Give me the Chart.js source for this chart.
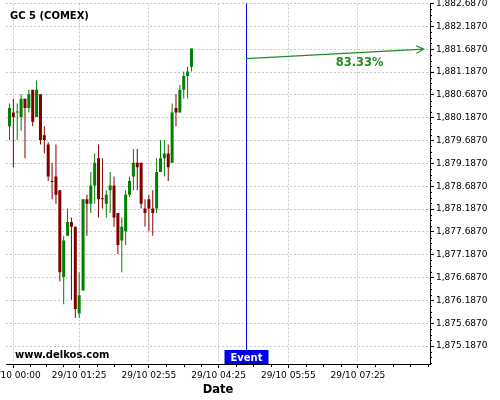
<!DOCTYPE html>
<html>
<head>
<meta charset="utf-8">
<script src="https://cdn.jsdelivr.net/npm/chart.js@4.4.0/dist/chart.umd.min.js"></script>
<style>
  html, body { margin: 0; padding: 0; background: #fff; }
  canvas { display: block; }
</style>
</head>
<body>
<canvas id="chart" width="500" height="400"></canvas>
<script>
// 5 minute candles, GC 5 (COMEX), 28/10 23:55 -> 29/10 03:50
const candleTimes = [
  "23:55", "00:00", "00:05", "00:10", "00:15", "00:20", "00:25", "00:30", "00:35", "00:40", "00:45", "00:50",
  "00:55", "01:00", "01:05", "01:10", "01:15", "01:20", "01:25", "01:30", "01:35", "01:40", "01:45", "01:50",
  "01:55", "02:00", "02:05", "02:10", "02:15", "02:20", "02:25", "02:30", "02:35", "02:40", "02:45", "02:50",
  "02:55", "03:00", "03:05", "03:10", "03:15", "03:20", "03:25", "03:30", "03:35", "03:40", "03:45", "03:50"
];
const opens = [
  1880.0, 1880.3, 1880.30, 1880.2, 1880.6, 1880.4, 1880.8, 1880.2, 1880.7, 1879.8, 1879.6, 1878.80,
  1878.9, 1878.6, 1876.7, 1877.6, 1877.9, 1877.8, 1875.9, 1876.4, 1878.4, 1878.3, 1878.7, 1879.3,
  1878.42, 1878.3, 1878.6, 1878.7, 1878.1, 1877.5, 1877.7, 1878.5, 1878.9, 1879.2, 1879.2, 1878.2,
  1878.4, 1878.2, 1878.2, 1879.0, 1879.3, 1879.4, 1879.2, 1880.4, 1880.3, 1880.8, 1881.1, 1881.3
];
const highs = [
  1880.5, 1880.6, 1880.5, 1880.7, 1880.6, 1880.8, 1880.8, 1881.0, 1880.7, 1880.0, 1879.65, 1879.2,
  1879.6, 1878.6, 1877.6, 1878.2, 1878.0, 1877.8, 1876.8, 1878.4, 1878.5, 1879.0, 1879.4, 1879.6,
  1879.3, 1878.6, 1879.0, 1878.9, 1878.1, 1878.0, 1878.6, 1878.9, 1879.5, 1879.5, 1879.2, 1878.4,
  1878.5, 1878.6, 1879.3, 1879.7, 1879.7, 1879.6, 1880.5, 1880.7, 1880.9, 1881.2, 1881.3, 1881.7
];
const lows = [
  1879.7, 1879.1, 1879.7, 1879.9, 1879.3, 1880.3, 1880.0, 1880.2, 1879.6, 1879.4, 1878.8, 1878.4,
  1878.3, 1876.6, 1876.1, 1877.6, 1876.2, 1875.8, 1875.8, 1876.4, 1877.6, 1878.1, 1878.3, 1878.0,
  1878.2, 1878.0, 1878.1, 1877.8, 1877.2, 1876.8, 1877.4, 1878.45, 1878.6, 1878.6, 1878.2, 1877.8,
  1877.7, 1877.6, 1878.1, 1879.0, 1878.9, 1878.8, 1879.2, 1880.0, 1880.3, 1880.6, 1880.6, 1881.2
];
const closes = [
  1880.4, 1880.2, 1880.32, 1880.6, 1880.4, 1880.7, 1880.1, 1880.8, 1879.7, 1879.7, 1878.9, 1878.78,
  1878.5, 1876.8, 1877.5, 1877.9, 1877.8, 1876.0, 1876.3, 1878.4, 1878.3, 1878.7, 1879.2, 1878.4,
  1878.40, 1878.5, 1878.7, 1878.0, 1877.4, 1877.8, 1878.5, 1878.8, 1879.2, 1879.1, 1878.3, 1878.1,
  1878.2, 1878.1, 1879.0, 1879.3, 1879.4, 1879.1, 1880.3, 1880.3, 1880.8, 1881.1, 1881.2, 1881.7
];

// axis ticks
const xTickTimes = ["00:00", "01:25", "02:55", "04:25", "05:55", "07:25"];
const yTickValues = [
  1875.187, 1875.687, 1876.187, 1876.687, 1877.187, 1877.687, 1878.187, 1878.687,
  1879.187, 1879.687, 1880.187, 1880.687, 1881.187, 1881.687, 1882.187, 1882.687
];

// event + forecast arrow
const eventTime = "05:00";
const arrowFrom = { time: "05:00", price: 1881.48 };
const arrowTo = { time: "08:50", price: 1881.687 };
const arrowLabel = "83.33%";

const GREEN = "#008000";
const RED = "#800000";

// minutes from 29/10 00:00 (times after noon belong to 28/10)
function toMinutes(s) {
  const [h, m] = s.split(":").map(Number);
  const t = h * 60 + m;
  return h >= 12 ? t - 1440 : t;
}
function fmtTime(v) {
  const h = Math.floor(v / 60), m = v % 60;
  return "29/10 " + String(h).padStart(2, "0") + ":" + String(m).padStart(2, "0");
}

const tMin = candleTimes.map(toMinutes);
const xTicks = xTickTimes.map(toMinutes);
const colors = opens.map((o, i) => (closes[i] >= o ? GREEN : RED));

const bodies = tMin.map((t, i) => ({ x: t, y: [opens[i], closes[i]] }));
const wicks = tMin.map((t, i) => ({ x: t, y: [lows[i], highs[i]] }));

// minor tick positions
const minorX = [];
for (let i = 0; i < xTicks.length; i++) {
  const a = xTicks[i];
  const step = i < xTicks.length - 1 ? (xTicks[i + 1] - a) / 4 : 22.5;
  for (let k = 1; k < 4; k++) minorX.push(a + k * step);
}
for (let v = xTicks[xTicks.length - 1] + 90; v < 540; v += 22.5) minorX.push(v);
const minorY = [];
for (let v = yTickValues[0] - 0.5; v < 1882.7; v += 0.5) {
  for (let k = 1; k < 4; k++) minorY.push(v + k * 0.125);
}

const overlay = {
  id: "overlay",
  afterDraw(chart) {
    const { ctx, chartArea: a, scales: { x, y } } = chart;
    ctx.save();

    // minor ticks
    ctx.strokeStyle = "#000";
    ctx.lineWidth = 1;
    ctx.beginPath();
    minorX.forEach(v => {
      const px = Math.round(x.getPixelForValue(v)) + 0.5;
      if (px < a.left || px > a.right) return;
      ctx.moveTo(px, a.bottom);
      ctx.lineTo(px, a.bottom + 3);
    });
    minorY.forEach(v => {
      const py = Math.round(y.getPixelForValue(v)) + 0.5;
      if (py < a.top || py > a.bottom) return;
      ctx.moveTo(a.right, py);
      ctx.lineTo(a.right + 2, py);
    });
    ctx.stroke();

    // title + watermark
    ctx.fillStyle = "#000";
    ctx.font = "bold 10px 'DejaVu Sans'";
    ctx.textAlign = "left";
    ctx.textBaseline = "alphabetic";
    ctx.fillText("GC 5 (COMEX)", 10, 19.3);
    ctx.fillText("www.delkos.com", 15, 357.5);

    // event line and box
    const ex = Math.round(x.getPixelForValue(toMinutes(eventTime))) + 0.5;
    ctx.strokeStyle = "#0000ff";
    ctx.beginPath();
    ctx.moveTo(ex, a.top);
    ctx.lineTo(ex, a.bottom - 14);
    ctx.stroke();
    ctx.fillStyle = "#0000ee";
    ctx.fillRect(ex - 22, a.bottom - 14, 44, 14);
    ctx.fillStyle = "#fff";
    ctx.textAlign = "center";
    ctx.fillText("Event", ex, a.bottom - 3.3);

    // forecast arrow
    const x1 = x.getPixelForValue(toMinutes(arrowFrom.time));
    const y1 = y.getPixelForValue(arrowFrom.price);
    const x2 = x.getPixelForValue(toMinutes(arrowTo.time));
    const y2 = y.getPixelForValue(arrowTo.price);
    const ang = Math.atan2(y2 - y1, x2 - x1);
    ctx.strokeStyle = "#228b22";
    ctx.lineWidth = 1.2;
    ctx.beginPath();
    ctx.moveTo(x1, y1);
    ctx.lineTo(x2, y2);
    ctx.moveTo(x2 - 8.5 * Math.cos(ang - 0.46), y2 - 8.5 * Math.sin(ang - 0.46));
    ctx.lineTo(x2, y2);
    ctx.lineTo(x2 - 8.5 * Math.cos(ang + 0.46), y2 - 8.5 * Math.sin(ang + 0.46));
    ctx.stroke();
    ctx.fillStyle = "#228b22";
    ctx.font = "bold 11.5px 'DejaVu Sans'";
    ctx.fillText(arrowLabel, x1 + (x2 - x1) * 0.64, y1 + 7);

    ctx.restore();
  }
};

Chart.defaults.font.family = "'DejaVu Sans'";
Chart.defaults.color = "#000";

new Chart(document.getElementById("chart"), {
  type: "bar",
  data: {
    datasets: [
      {
        label: "body",
        data: bodies,
        backgroundColor: colors,
        borderWidth: 0,
        grouped: false,
        categoryPercentage: 1,
        barPercentage: 0.8,
        maxBarThickness: 3,
        minBarLength: 1
      },
      {
        label: "wick",
        data: wicks,
        backgroundColor: colors,
        borderWidth: 0,
        grouped: false,
        maxBarThickness: 1
      }
    ]
  },
  options: {
    responsive: false,
    animation: false,
    layout: { padding: { left: 6, top: 3.5, right: 0, bottom: 0 } },
    plugins: { legend: { display: false }, tooltip: { enabled: false } },
    scales: {
      x: {
        type: "linear",
        min: -9.5,
        max: 538,
        offset: false,
        afterBuildTicks: s => { s.ticks = xTicks.map(v => ({ value: v })); },
        afterFit: s => { s.height = 36; s.paddingLeft = 0; s.paddingRight = 0; },
        ticks: {
          autoSkip: false,
          maxRotation: 0,
          padding: 2,
          font: { size: 9 },
          callback: v => fmtTime(v)
        },
        grid: {
          offset: false,
          color: "#c8c8c8",
          tickColor: "#000",
          tickLength: 4,
          tickBorderDash: []
        },
        border: { display: true, color: "#000", width: 1, dash: [2, 2] },
        title: {
          display: true,
          text: "Date",
          font: { size: 11.5, weight: "bold" },
          padding: { top: 0, bottom: 3 }
        }
      },
      y: {
        type: "linear",
        position: "right",
        min: 1874.793,
        max: 1882.687,
        afterBuildTicks: s => { s.ticks = yTickValues.map(v => ({ value: v })); },
        afterFit: s => { s.width = 70; s.paddingTop = 0; s.paddingBottom = 0; },
        ticks: {
          autoSkip: false,
          padding: 2,
          font: { size: 9 },
          callback: v => v.toLocaleString("en-US", { minimumFractionDigits: 4, maximumFractionDigits: 4 })
        },
        grid: {
          color: "#c8c8c8",
          tickColor: "#000",
          tickLength: 4,
          tickBorderDash: []
        },
        border: { display: true, color: "#000", width: 1, dash: [2, 2] }
      }
    }
  },
  plugins: [overlay]
});
</script>
</body>
</html>
